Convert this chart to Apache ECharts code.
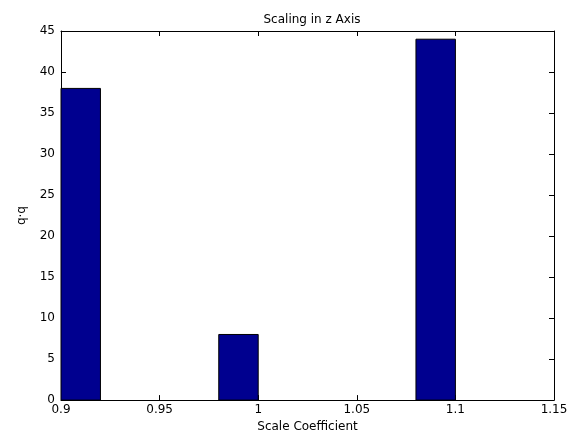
<!DOCTYPE html>
<html>
<head>
<meta charset="utf-8">
<script src="https://cdn.jsdelivr.net/npm/echarts@6/dist/echarts.min.js"></script>
<style>
  html, body { margin: 0; padding: 0; background: #fff; }
  #chart { width: 579px; height: 438px; }
</style>
</head>
<body>
<div id="chart"></div>
<script>
// Histogram bins: left/right edges and counts
const binLeft = [0.9, 0.98, 1.08];
const binRight = [0.92, 1.0, 1.1];
const counts = [38, 8, 44];

const xMin = 0.9, xMax = 1.15, xStep = 0.05;
const yMin = 0, yMax = 45, yStep = 5;

const FONT = 'DejaVu Sans, sans-serif';
const binData = binLeft.map((l, i) => [l, binRight[i], counts[i]]);

const chart = echarts.init(document.getElementById('chart'), null, { renderer: 'canvas' });

const axisCommon = {
  axisLine: { show: true, onZero: false, lineStyle: { color: '#000', width: 1 } },
  axisTick: { show: true, inside: true, length: 5, lineStyle: { color: '#000', width: 1 } },
  splitLine: { show: false }
};

chart.setOption({
  animation: false,
  backgroundColor: '#fff',
  title: {
    text: 'Scaling in z Axis',
    left: 307, top: 9, textAlign: 'center',
    textStyle: { fontFamily: FONT, fontSize: 12, fontWeight: 'normal', color: '#000' }
  },
  grid: { left: 61, right: 25, top: 31, bottom: 37 },
  xAxis: [
    Object.assign({
      type: 'value', min: xMin, max: xMax, interval: xStep, position: 'bottom',
      name: 'Scale Coefficient', nameLocation: 'middle', nameGap: 16,
      nameTextStyle: { fontFamily: FONT, fontSize: 12, color: '#000' },
      axisLabel: { fontFamily: FONT, fontSize: 12, color: '#000', margin: 4,
        formatter: v => String(Math.round(v * 100) / 100) }
    }, axisCommon),
    Object.assign({
      type: 'value', min: xMin, max: xMax, interval: xStep, position: 'top',
      axisLabel: { show: false }
    }, axisCommon)
  ],
  yAxis: [
    Object.assign({
      type: 'value', min: yMin, max: yMax, interval: yStep, position: 'left',
      name: 'q·q', nameLocation: 'middle', nameGap: 33, nameRotate: 90,
      nameTextStyle: { fontFamily: FONT, fontSize: 12, color: '#000' },
      axisLabel: { fontFamily: FONT, fontSize: 12, color: '#000', margin: 6 }
    }, axisCommon),
    Object.assign({
      type: 'value', min: yMin, max: yMax, interval: yStep, position: 'right',
      axisLabel: { show: false }
    }, axisCommon)
  ],
  series: [{
    type: 'custom',
    xAxisIndex: 0, yAxisIndex: 0,
    data: binData,
    renderItem: function (params, api) {
      const p0 = api.coord([api.value(0), api.value(2)]);
      const p1 = api.coord([api.value(1), 0]);
      const rect = echarts.graphic.clipRectByRect(
        { x: p0[0], y: p0[1], width: p1[0] - p0[0], height: p1[1] - p0[1] },
        { x: params.coordSys.x, y: params.coordSys.y,
          width: params.coordSys.width, height: params.coordSys.height }
      );
      return rect && {
        type: 'rect',
        shape: rect,
        style: { fill: '#00008f', stroke: '#000', lineWidth: 1 }
      };
    },
    z: 1
  }]
});
</script>
</body>
</html>
